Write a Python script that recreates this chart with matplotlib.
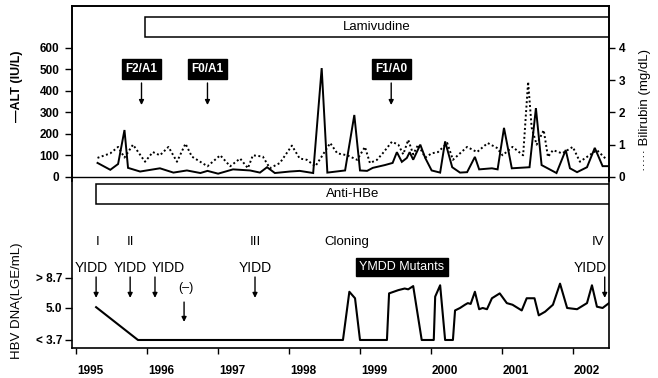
import numpy as np
import matplotlib
matplotlib.use("Agg")
import matplotlib.pyplot as plt
import matplotlib.transforms as mtransforms
from matplotlib.patches import Rectangle

plt.rcParams['font.family'] = ['Liberation Sans', 'DejaVu Sans']

# ALT (IU/L), solid line
alt_year = [1995.30, 1995.48, 1995.59, 1995.68, 1995.73, 1995.90, 1996.18, 1996.37,
            1996.56, 1996.75, 1996.85, 1997.00, 1997.21, 1997.45, 1997.59, 1997.69,
            1997.80, 1998.01, 1998.15, 1998.34, 1998.46, 1998.54, 1998.79, 1998.92,
            1999.00, 1999.10, 1999.18, 1999.35, 1999.46, 1999.52, 1999.59, 1999.66,
            1999.70, 1999.75, 1999.85, 1999.92, 2000.01, 2000.13, 2000.20, 2000.30,
            2000.41, 2000.51, 2000.62, 2000.68, 2000.86, 2000.94, 2001.03, 2001.14,
            2001.39, 2001.48, 2001.56, 2001.77, 2001.90, 2001.96, 2002.06, 2002.20,
            2002.31, 2002.42, 2002.51]
alt = [65, 33, 60, 218, 42, 25, 40, 20,
       30, 18, 28, 15, 35, 30, 20, 45,
       18, 25, 28, 18, 506, 20, 30, 288,
       30, 28, 42, 55, 65, 115, 70, 88,
       115, 80, 150, 88, 30, 20, 165, 45,
       20, 22, 93, 35, 40, 35, 228, 40,
       45, 320, 55, 18, 125, 40, 22, 45,
       135, 50, 50]

# Bilirubin (mg/dL), dotted line
bili_year = [1995.30, 1995.48, 1995.59, 1995.68, 1995.80, 1995.97, 1996.08, 1996.18,
             1996.30, 1996.42, 1996.54, 1996.63, 1996.85, 1997.03, 1997.17, 1997.31,
             1997.42, 1997.49, 1997.63, 1997.73, 1997.87, 1998.04, 1998.15, 1998.25,
             1998.37, 1998.46, 1998.58, 1998.68, 1998.82, 1998.96, 1999.07, 1999.14,
             1999.24, 1999.32, 1999.45, 1999.54, 1999.61, 1999.68, 1999.75, 1999.82,
             1999.92, 2000.01, 2000.10, 2000.23, 2000.31, 2000.51, 2000.65, 2000.80,
             2000.93, 2001.01, 2001.15, 2001.30, 2001.37, 2001.42, 2001.49, 2001.59,
             2001.65, 2001.72, 2001.85, 2002.00, 2002.10, 2002.20, 2002.34, 2002.48]
bili = [0.59, 0.73, 0.93, 0.60, 1.00, 0.47, 0.77, 0.67,
        0.93, 0.47, 1.03, 0.63, 0.33, 0.67, 0.33, 0.57,
        0.27, 0.67, 0.63, 0.27, 0.43, 0.97, 0.57, 0.53,
        0.33, 0.63, 1.05, 0.73, 0.67, 0.53, 0.93, 0.43,
        0.53, 0.73, 1.09, 1.00, 0.70, 1.15, 0.70, 1.00,
        0.60, 0.73, 0.77, 1.05, 0.53, 0.93, 0.77, 1.05,
        0.90, 0.67, 0.93, 0.67, 2.95, 1.53, 1.00, 1.45,
        0.62, 0.83, 0.73, 0.93, 0.47, 0.62, 0.83, 0.53]

# HBV DNA (log genome equivalents / mL)
dna_year = [1995.28, 1995.87, 1998.76, 1998.85, 1998.93, 1999.00, 1999.38, 1999.41,
            1999.54, 1999.63, 1999.68, 1999.75, 1999.87, 2000.04, 2000.06, 2000.13,
            2000.20, 2000.31, 2000.34, 2000.41, 2000.48, 2000.52, 2000.56, 2000.62,
            2000.68, 2000.73, 2000.79, 2000.86, 2000.97, 2001.07, 2001.15, 2001.28,
            2001.35, 2001.46, 2001.52, 2001.61, 2001.72, 2001.82, 2001.92, 2002.06,
            2002.20, 2002.27, 2002.34, 2002.42, 2002.51]
dna = [5.1, 3.7, 3.7, 7.0, 6.2, 3.7, 3.7, 6.8,
       7.2, 7.4, 7.3, 7.7, 3.7, 3.7, 6.4, 7.8,
       3.7, 3.7, 4.9, 5.0, 5.4, 5.6, 5.5, 7.0,
       4.95, 5.0, 4.95, 6.2, 6.8, 5.6, 5.4, 4.9,
       6.2, 6.2, 4.7, 4.85, 5.4, 8.0, 5.0, 4.95,
       5.6, 7.8, 5.16, 5.0, 5.6]

years = [1995, 1996, 1997, 1998, 1999, 2000, 2001, 2002]
alt_ticks = [0, 100, 200, 300, 400, 500, 600]
bili_ticks = [0, 1, 2, 3, 4]
dna_ticks = [3.7, 5.0, 8.7]
dna_ticklabels = ['< 3.7', '5.0', '> 8.7']

biopsy_labels = ['F2/A1', 'F0/A1', 'F1/A0']
biopsy_year = [1995.92, 1996.85, 1999.44]

stage_labels = ['I', 'II', 'III', 'Cloning', 'IV']
stage_year = [1995.30, 1995.76, 1997.52, 1998.82, 2002.35]

yidd_text_year = [1995.21, 1995.76, 1996.30, 1997.52, 2002.25]
yidd_arrow_year = [1995.28, 1995.76, 1996.11, 1997.52, 2002.45]

# piecewise scale for the DNA axis
_v = [-50, 3.7, 5.0, 8.7, 50]
_p = [-1321.8, 0, 32, 62, 396.9]
def dna_fwd(v):
    return np.interp(v, _v, _p)
def dna_inv(p):
    return np.interp(p, _p, _v)

fig = plt.figure(figsize=(6.58, 3.78), dpi=100)
ax1 = fig.add_axes([0.1094, 0.5212, 0.8161, 0.463])
ax2 = fig.add_axes([0.1094, 0.0794, 0.8161, 0.4418], sharex=ax1)
ax1b = ax1.twinx()

xlim = (1994.94, 2002.51)

# --- top panel
ax1.plot(alt_year, alt, color='black', lw=1.4, solid_joinstyle='miter')
ax1.axhline(0, color='black', lw=1)
ax1.set_ylim(-19, 795)
ax1.set_xlim(*xlim)
ax1.set_yticks(alt_ticks)
ax1b.plot(bili_year, bili, color='black', lw=1.4, linestyle=(0, (1, 1.3)))
ax1b.set_ylim(-19 / 150, 795 / 150)
ax1b.set_yticks(bili_ticks)

for a in (ax1, ax1b):
    a.spines['bottom'].set_visible(False)
    a.tick_params(axis='x', bottom=False, labelbottom=False)
    for s in a.spines.values():
        s.set_linewidth(1.2)
ax1.tick_params(axis='y', direction='out', length=5, width=1, labelsize=8.5, pad=4)
ax1b.tick_params(axis='y', direction='out', length=4, width=1, labelsize=8.5, pad=3)
for lab in ax1.get_yticklabels() + ax1b.get_yticklabels():
    lab.set_fontweight('bold')

t1 = mtransforms.blended_transform_factory(ax1.transData, ax1.transAxes)
ax1.add_patch(Rectangle((1995.97, 0.823), 10, 0.114, transform=t1, fc='white',
                        ec='black', lw=1.1, clip_on=True))
ax1.text((1995.97 + xlim[1]) / 2, 0.88, 'Lamivudine', transform=t1, ha='center',
         va='center', fontsize=9.5)

for lab, yr in zip(biopsy_labels, biopsy_year):
    ax1.text(yr, 0.64, lab, transform=t1, ha='center', va='center', fontsize=8.5,
             fontweight='bold', color='white',
             bbox=dict(boxstyle='square,pad=0.3', fc='black', ec='black'))
    ax1.annotate('', xy=(yr, 0.434), xytext=(yr, 0.56), xycoords=t1, textcoords=t1,
                 arrowprops=dict(arrowstyle='-|>', color='black', lw=1,
                                 mutation_scale=7, shrinkA=0, shrinkB=0))

# --- bottom panel
ax2.set_yscale('function', functions=(dna_fwd, dna_inv))
ax2.plot(dna_year, dna, color='black', lw=1.5)
ax2.set_ylim(3.375, 20.66)
ax2.set_xlim(*xlim)
ax2.set_yticks(dna_ticks)
ax2.set_yticklabels(dna_ticklabels)
ax2.yaxis.set_minor_locator(matplotlib.ticker.NullLocator())
ax2.spines['top'].set_visible(False)
for s in ax2.spines.values():
    s.set_linewidth(1.2)
ax2.tick_params(axis='y', direction='out', length=5, width=1, labelsize=8.5, pad=2)

# year labels sit a little right of the tick marks
ax2.set_xticks([y + 0.2 for y in years])
ax2.set_xticklabels([str(y) for y in years])
ax2.set_xticks(years, minor=True)
ax2.tick_params(axis='x', which='major', length=0, labelsize=8.5, pad=12)
ax2.tick_params(axis='x', which='minor', direction='out', length=4, width=1)
for lab in ax2.get_yticklabels() + ax2.get_xticklabels():
    lab.set_fontweight('bold')

t2 = mtransforms.blended_transform_factory(ax2.transData, ax2.transAxes)
ax2.add_patch(Rectangle((1995.28, 0.862), 10, 0.12, transform=t2, fc='white',
                        ec='black', lw=1.1, clip_on=True))
ax2.text((1995.28 + xlim[1]) / 2, 0.92, 'Anti-HBe', transform=t2, ha='center',
         va='center', fontsize=9.5)

for lab, yr in zip(stage_labels, stage_year):
    ax2.text(yr, 0.635, lab, transform=t2, ha='center', va='center', fontsize=9.5)

arrow_kw = dict(arrowstyle='-|>', color='black', lw=1, mutation_scale=7,
                shrinkA=0, shrinkB=0)
for tx, ax_ in zip(yidd_text_year, yidd_arrow_year):
    ax2.text(tx, 0.479, 'YIDD', transform=t2, ha='center', va='center', fontsize=10)
    ax2.annotate('', xy=(ax_, 0.30), xytext=(ax_, 0.425), xycoords=t2,
                 textcoords=t2, arrowprops=arrow_kw)

ax2.text(1996.54, 0.357, '(–)', transform=t2, ha='center', va='center', fontsize=9)
ax2.annotate('', xy=(1996.52, 0.156), xytext=(1996.52, 0.275), xycoords=t2,
             textcoords=t2, arrowprops=arrow_kw)

ax2.text(1999.59, 0.485, 'YMDD Mutants', transform=t2, ha='center', va='center',
         fontsize=9, color='white',
         bbox=dict(boxstyle='square,pad=0.25', fc='black', ec='black'))

# axis titles
fig.text(0.026, 0.772, '\u2014ALT (IU/L)', rotation=90, ha='center', va='center',
         fontsize=9, fontweight='bold')
fig.text(0.026, 0.204, 'HBV DNA(LGE/mL)', rotation=90, ha='center', va='center',
         fontsize=9.5)
fig.text(0.980, 0.709, '\u00b7\u00b7\u00b7\u00b7\u00b7 Bilirubin (mg/dL)', rotation=90,
         ha='center', va='center', fontsize=9.5)

fig.savefig('out.png', dpi=100)
